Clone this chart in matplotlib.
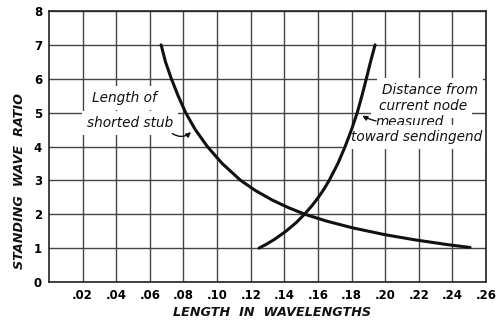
import matplotlib
matplotlib.use("Agg")
import matplotlib.pyplot as plt
from matplotlib.patches import FancyArrowPatch

# Data
stub_x = [0.0667, 0.0693, 0.0728, 0.0768, 0.0813, 0.0870, 0.0942, 0.1030, 0.1140,
          0.1228, 0.1328, 0.1422, 0.1522, 0.1650, 0.1805, 0.1995, 0.2170, 0.2375, 0.2505]
stub_y = [7.0, 6.5, 6.0, 5.5, 5.0, 4.5, 4.0, 3.5, 3.0,
          2.7, 2.42, 2.2, 2.0, 1.8, 1.6, 1.4, 1.25, 1.1, 1.02]

dist_x = [0.1250, 0.1268, 0.1288, 0.1339, 0.1410, 0.1470, 0.1520, 0.1564, 0.1603, 0.1637,
          0.1667, 0.1719, 0.1762, 0.1800, 0.1834, 0.1862, 0.1888, 0.1913, 0.1940]
dist_y = [1.0, 1.05, 1.1, 1.25, 1.5, 1.75, 2.0, 2.25, 2.5, 2.75,
          3.0, 3.5, 4.0, 4.5, 5.0, 5.5, 6.0, 6.5, 7.0]

x_ticks = [0.02, 0.04, 0.06, 0.08, 0.10, 0.12, 0.14, 0.16, 0.18, 0.20, 0.22, 0.24, 0.26]
x_labels = [".02", ".04", ".06", ".08", ".10", ".12", ".14", ".16", ".18", ".20", ".22", ".24", ".26"]
y_ticks = [0, 1, 2, 3, 4, 5, 6, 7, 8]

fig = plt.figure(figsize=(5.01, 3.25), dpi=100)
ax = fig.add_axes([49/501, 1 - 282/325, (486 - 49)/501, (282 - 11)/325])
ax.set_xlim(0, 0.26)
ax.set_ylim(0, 8)

ax.set_xticks(x_ticks)
ax.set_xticklabels(x_labels)
ax.set_yticks(y_ticks)
ax.tick_params(length=0, labelsize=8.5, pad=5)
for lab in ax.get_xticklabels() + ax.get_yticklabels():
    lab.set_fontweight("bold")
ax.grid(True, color="#444444", linewidth=1.0)
ax.set_axisbelow(True)
for s in ax.spines.values():
    s.set_color("#222222")
    s.set_linewidth(1.2)

ax.plot(stub_x, stub_y, color="#111111", linewidth=2.2, solid_capstyle="round",
        solid_joinstyle="round", zorder=3)
ax.plot(dist_x, dist_y, color="#111111", linewidth=2.2, solid_capstyle="round",
        solid_joinstyle="round", zorder=3)

fig.text(20/501, 1 - 181/325, "STANDING  WAVE  RATIO", rotation=90, ha="center", va="center",
         fontsize=9.2, fontweight="bold", fontstyle="italic", color="#111111")
fig.text(272/501, 1 - 313/325, "LENGTH  IN  WAVELENGTHS", ha="center", va="center",
         fontsize=9.2, fontweight="bold", fontstyle="italic", color="#111111")

tk = dict(fontsize=9.8, fontstyle="italic", color="#111111", ha="center", va="center", zorder=2)
box = dict(facecolor="white", edgecolor="none", pad=3.8)
ax.text(0.0449, 5.43, "Length of", bbox=box, **tk)
ax.text(0.0482, 4.69, "shorted stub", bbox=box, **tk)
ax.add_patch(FancyArrowPatch((0.0720, 4.43), (0.0857, 4.48), connectionstyle="arc3,rad=0.45",
                             arrowstyle="-|>", mutation_scale=7, color="#111111", lw=1.0, zorder=4))

rt = [("Distance from", 0.2267, 5.67), ("current node", 0.2225, 5.20),
      ("measured", 0.2148, 4.72), ("toward sendingend", 0.2190, 4.28)]
for txt, xv, yv in rt:
    ax.text(xv, yv, txt, bbox=box, **tk)
ax.add_patch(FancyArrowPatch((0.1962, 4.74), (0.1850, 4.95), connectionstyle="arc3,rad=-0.1",
                             arrowstyle="-|>", mutation_scale=7, color="#111111", lw=1.0, zorder=4))

fig.savefig("out.png", dpi=100, facecolor="white")
